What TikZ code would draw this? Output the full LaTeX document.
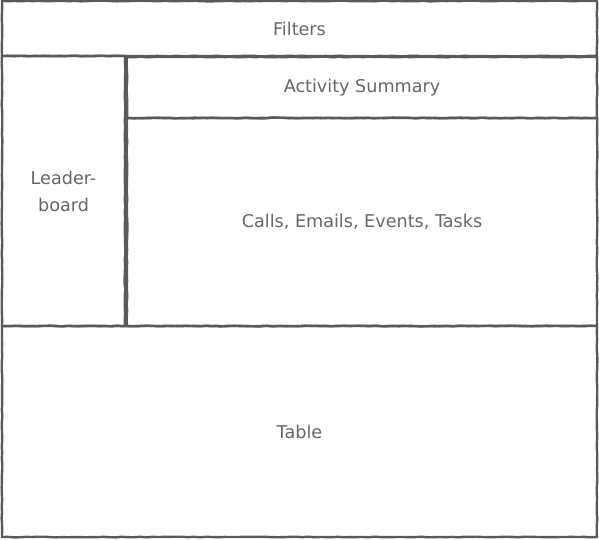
\documentclass[tikz,border=0pt]{standalone}
\usepackage{fontspec}
\setmainfont{DejaVu Sans}
\usetikzlibrary{positioning}
\usetikzlibrary{decorations.pathmorphing}
\definecolor{sketchgray}{HTML}{5A5A5A}
\definecolor{textgray}{HTML}{666666}
\tikzset{
    panel/.style = {rectangle, draw=sketchgray, line width=2.4pt, align=center, inner sep=0pt,
                    font=\fontsize{17.6}{27}\selectfont, text=textgray,
                    decorate, decoration={random steps, segment length=6pt, amplitude=0.35pt}},
}

\begin{document}
\begin{tikzpicture}[x=1pt, y=-1pt]
  \useasboundingbox (0,0) rectangle (599,539);
  \node[panel, minimum width=595pt, minimum height=55pt] (filters) at (299.5,28.5) {Filters};
  \node[panel, minimum width=123pt, minimum height=270pt] (leader) at (63.5,191) {Leader-\\board};
  \node[panel, minimum width=470pt, minimum height=61pt] (summary) at (362,87.5) {Activity Summary};
  \node[panel, minimum width=470pt, minimum height=208pt] (activity) at (362,222) {Calls, Emails, Events, Tasks};
  \node[panel, minimum width=595pt, minimum height=211pt] (table) at (299.5,431.5) {Table};
\end{tikzpicture}
\end{document}
